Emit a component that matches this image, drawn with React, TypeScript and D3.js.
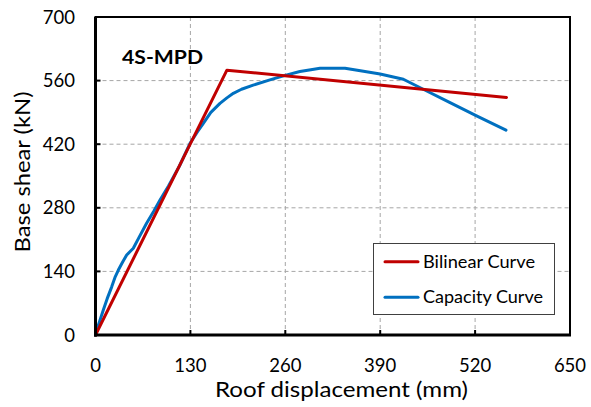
import React from "react";
import * as d3 from "d3";

const xTicks = [0, 130, 260, 390, 520, 650];
const yTicks = [0, 140, 280, 420, 560, 700];

const bilinearDisp = [0, 180, 563];
const bilinearShear = [0, 583, 523];

const capacityDisp = [0, 4, 10.7, 16, 22.2, 27, 31.3, 37, 42.7, 51.8, 60, 70, 80, 88.4, 100, 115, 129.5, 140, 147.7, 158, 170.5, 180, 188.8, 200, 216, 240, 261, 280, 295, 307.5, 341.8, 365, 389.9, 421.7, 449, 485, 522, 562.3];
const capacityShear = [0, 22, 55, 80, 106, 128, 143, 160, 176, 191, 216, 246, 273, 297, 328, 372, 422, 448, 466, 490, 510, 522, 532, 541, 550, 562, 572, 580, 584, 587, 587, 581, 574.5, 563, 541, 512, 482.5, 451];

const seriesNames = ["Bilinear Curve", "Capacity Curve"];
const seriesColors = ["#C00000", "#0070C0"];
const legendTextLengths = [112, 120];

export default function App() {
  const W = 591, H = 407;
  const left = 95.5, right = 570, top = 17, bottom = 335;
  const x = d3.scaleLinear().domain([0, 650]).range([left, right]);
  const y = d3.scaleLinear().domain([0, 700]).range([bottom, top]);
  const line = d3.line<[number, number]>().x(d => x(d[0])).y(d => y(d[1]));
  const bil = bilinearDisp.map((d, i) => [d, bilinearShear[i]] as [number, number]);
  const cap = capacityDisp.map((d, i) => [d, capacityShear[i]] as [number, number]);
  const font = "Lato, 'Open Sans', sans-serif";
  return (
    <svg width={W} height={H} style={{ position: "absolute", left: 0, top: 0, background: "#fff" }} fontFamily={font}>
      <rect x={0} y={0} width={W} height={H} fill="#fff" />
      {xTicks.slice(1, -1).map(t => (
        <line key={"gx" + t} x1={x(t)} x2={x(t)} y1={top} y2={bottom} stroke="#a6a6a6" strokeWidth={1} strokeDasharray="4,3" />
      ))}
      {yTicks.slice(1, -1).map(t => (
        <line key={"gy" + t} x1={left} x2={right} y1={y(t)} y2={y(t)} stroke="#a6a6a6" strokeWidth={1} strokeDasharray="4,3" />
      ))}
      <path d={line(cap) || ""} fill="none" stroke={seriesColors[1]} strokeWidth={3} strokeLinejoin="round" strokeLinecap="round" />
      <path d={line(bil) || ""} fill="none" stroke={seriesColors[0]} strokeWidth={3} strokeLinejoin="round" strokeLinecap="round" />
      <rect x={left} y={top} width={right - left} height={bottom - top} fill="none" stroke="#000" strokeWidth={2} />
      <line x1={left} x2={left} y1={top} y2={bottom + 1.5} stroke="#000" strokeWidth={3} />
      <line x1={left - 1.5} x2={right + 1} y1={bottom} y2={bottom} stroke="#000" strokeWidth={3} />
      {xTicks.map(t => (
        <g key={"tx" + t}>
          <line x1={x(t)} x2={x(t)} y1={bottom} y2={bottom - 5} stroke="#000" strokeWidth={2} />
          <text x={x(t)} y={372} textAnchor="middle" fontSize={18.5} fill="#000">{t}</text>
        </g>
      ))}
      {yTicks.map(t => (
        <g key={"ty" + t}>
          <line x1={left} x2={left + 5} y1={y(t)} y2={y(t)} stroke="#000" strokeWidth={2} />
          <text x={75} y={y(t)} dy="0.36em" textAnchor="end" fontSize={18.5} fill="#000">{t}</text>
        </g>
      ))}
      <text x={341.5} y={397} textAnchor="middle" fontSize={21.5} textLength={253} lengthAdjust="spacingAndGlyphs" fill="#000">Roof displacement (mm)</text>
      <text transform={`translate(30,172) rotate(-90)`} textAnchor="middle" fontSize={21.5} textLength={161} lengthAdjust="spacingAndGlyphs" fill="#000">Base shear (kN)</text>
      <text x={122} y={63.5} fontSize={18.5} fontWeight="bold" textLength={81} lengthAdjust="spacingAndGlyphs" fill="#000">4S-MPD</text>
      <rect x={373.5} y={243.5} width={181} height={71} fill="#fff" stroke="#404040" strokeWidth={1} />
      {seriesNames.map((n, i) => (
        <g key={n}>
          <line x1={385} x2={418} y1={261.7 + i * 35.6} y2={261.7 + i * 35.6} stroke={seriesColors[i]} strokeWidth={3} strokeLinecap="round" />
          <text x={423} y={268.3 + i * 35} fontSize={17.5} textLength={legendTextLengths[i]} lengthAdjust="spacingAndGlyphs" fill="#000">{n}</text>
        </g>
      ))}
    </svg>
  );
}
